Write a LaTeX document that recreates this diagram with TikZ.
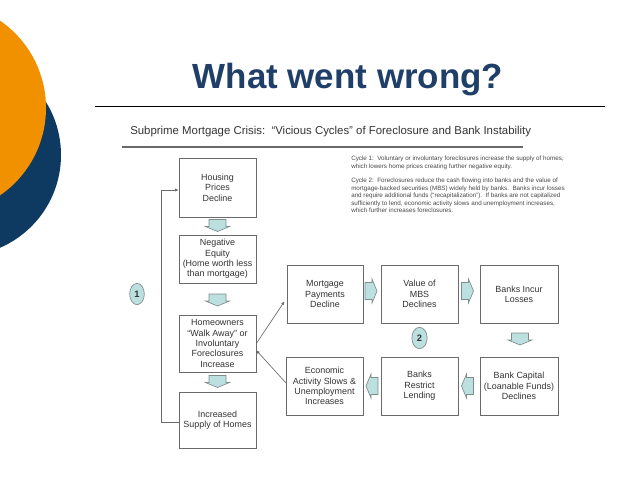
\documentclass[tikz,border=0pt]{standalone}
\usepackage{fontspec}
\setmainfont{Liberation Sans}
\usetikzlibrary{shapes.geometric,arrows.meta,calc}
\definecolor{orng}{HTML}{F29100}
\definecolor{navy}{HTML}{0E3A62}
\definecolor{titleblue}{HTML}{1F3F68}
\definecolor{boxline}{HTML}{6A6A6A}
\definecolor{txt}{HTML}{333333}
\definecolor{afill}{HTML}{BCDFE0}
\definecolor{aline}{HTML}{7E8C8C}
\tikzset{
  box/.style={draw=boxline, fill=white, line width=0.5pt, minimum width=57.75pt,
    minimum height=43.5pt, align=center, inner sep=1pt, text=txt,
    font=\fontsize{6.7}{7.8}\selectfont},
  barrowstyle/.style={draw=aline, fill=afill, line width=0.5pt},
  darrow/.pic={\path[barrowstyle] (-8.5,-6) -- (8.5,-6) -- (8.5,1) -- (12,1) -- (0,6) -- (-12,1) -- (-8.5,1) -- cycle;},
  rarrow/.pic={\path[barrowstyle] (-6,-8.5) -- (1,-8.5) -- (1,-12) -- (6,0) -- (1,12) -- (1,8.5) -- (-6,8.5) -- cycle;},
  larrow/.pic={\path[barrowstyle] (6,-8.5) -- (-1,-8.5) -- (-1,-12) -- (-6,0) -- (-1,12) -- (-1,8.5) -- (6,8.5) -- cycle;},
  cyc/.style={ellipse, draw=aline, fill=afill, line width=0.5pt, inner sep=0pt,
    minimum width=11pt, minimum height=16pt, text=txt,
    font=\fontsize{7}{8}\selectfont\bfseries},
  conn/.style={draw=boxline, line width=0.5pt, -{Latex[length=2.6pt,width=2.4pt]}}
}
\begin{document}
\begin{tikzpicture}[x=0.75pt,y=-0.75pt]
\useasboundingbox (0,0) rectangle (638,479);
\begin{scope}
\clip (0,0) rectangle (638,479);
\fill[navy] (-40,155) circle (101);
\fill[orng] (-60,108) circle (106);
\end{scope}
% title
\node[anchor=base, text=titleblue, font=\fontsize{26.2}{30}\selectfont\bfseries, inner sep=0pt]
  (title) at (348,88) {What went wrong?};
\coordinate (r1a) at (95,106);
\coordinate (r1b) at (605,106);
\draw[black, line width=0.75pt] (r1a) -- (r1b);
% subtitle
\node[anchor=base west, text=txt, font=\fontsize{8.55}{10}\selectfont, inner sep=0pt]
  (sub) at (130,134) {Subprime Mortgage Crisis:\ \ “Vicious Cycles” of Foreclosure and Bank Instability};
\coordinate (r2a) at (122,147);
\coordinate (r2b) at (523,147);
\draw[boxline, line width=0.9pt] (r2a) -- (r2b);
% cycle text
\node[anchor=north west, align=left, text=txt!90, font=\fontsize{4.7}{5.6}\selectfont, inner sep=0pt]
  (cycles) at (351,156) {Cycle 1:\ \ Voluntary or involuntary foreclosures increase the supply of homes,\\
which lowers home prices creating further negative equity.\\[5.4pt]
Cycle 2:\ \ Foreclosures reduce the cash flowing into banks and the value of\\
mortgage-backed securities (MBS) widely held by banks.\ \ Banks incur losses\\
and require additional funds (“recapitalization”).\ \ If banks are not capitalized\\
sufficiently to lend, economic activity slows and unemployment increases,\\
which further increases foreclosures.};
% left column
\node[box, minimum height=44.25pt] (housing) at (217.5,187.5) {Housing\\Prices\\Decline};
\node[box, minimum height=36pt] (negeq) at (217.5,259) {Negative\\Equity\\(Home worth less\\than mortgage)};
\node[box, minimum height=42.75pt] (homeowners) at (217.5,343.5) {Homeowners\\“Walk Away” or\\Involuntary\\Foreclosures\\Increase};
\node[box, minimum height=42pt] (supply) at (217.5,420) {Increased\\Supply of Homes};
\pic at (217.5,225.5) {darrow};
\pic at (217.5,300) {darrow};
\pic at (217.5,381.5) {darrow};
% feedback loop 1
\coordinate (fb1) at (161,422);
\coordinate (fb2) at (161,190);
\draw[conn] (supply.west |- fb1) -- (fb1) -- (fb2) -- (housing.west |- fb2);
\node[cyc] (c1) at (137,294) {1};
% right grid
\node[box, minimum width=57pt] (mortgage) at (325,294) {Mortgage\\Payments\\Decline};
\node[box] (mbs) at (419.5,294) {Value of\\MBS\\Declines};
\node[box, minimum width=58.5pt] (losses) at (519,294) {Banks Incur\\Losses};
\node[box] (econ) at (324.5,386) {Economic\\Activity Slows \&\\Unemployment\\Increases};
\node[box] (restrict) at (419.5,386) {Banks\\Restrict\\Lending};
\node[box, minimum width=58.5pt] (capital) at (519,386) {Bank Capital\\(Loanable Funds)\\Declines};
\pic at (371,291) {rarrow};
\pic at (467.5,291) {rarrow};
\pic at (520,339) {darrow};
\pic at (467.5,386) {larrow};
\pic at (372,386) {larrow};
\node[cyc, minimum width=11.5pt] (c2) at (419.5,338) {2};
% connectors
\draw[conn, shorten >=3pt] (homeowners.east) -- (mortgage.-174);
\draw[conn] (econ.175) -- (homeowners.-10);
\end{tikzpicture}
\end{document}
